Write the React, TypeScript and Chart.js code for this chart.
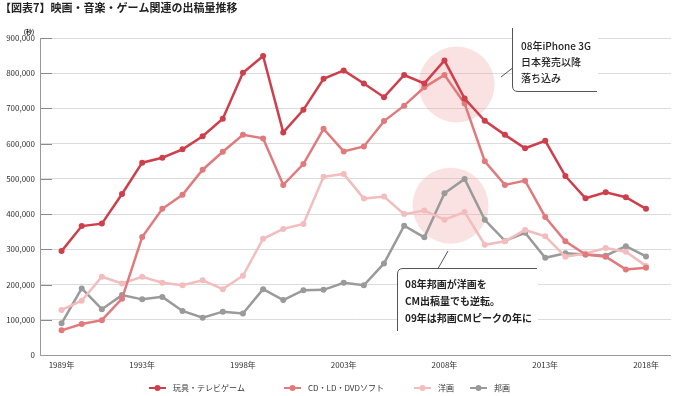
import React, { useEffect, useRef } from 'react';
import { Chart, registerables } from 'chart.js';

Chart.register(...registerables);

const years = [
  1989, 1990, 1991, 1992, 1993, 1994, 1995, 1996, 1997, 1998,
  1999, 2000, 2001, 2002, 2003, 2004, 2005, 2006, 2007, 2008,
  2009, 2010, 2011, 2012, 2013, 2014, 2015, 2016, 2017, 2018,
];
const tickYears = [1989, 1993, 1998, 2003, 2008, 2013, 2018];
const yTicks = [0, 100000, 200000, 300000, 400000, 500000, 600000, 700000, 800000, 900000];

// 玩具・テレビゲーム
const toyGame = [
  295000, 366000, 373000, 457000, 546000, 560000, 584000, 621000, 671000, 801000,
  849000, 632000, 696000, 784000, 808000, 771000, 732000, 795000, 771000, 836000,
  728000, 665000, 625000, 587000, 608000, 508000, 445000, 462000, 448000, 415000,
];
// CD・LD・DVDソフト
const cdSoft = [
  70000, 88000, 99000, 160000, 335000, 415000, 455000, 526000, 577000, 625000,
  615000, 483000, 542000, 642000, 578000, 592000, 664000, 708000, 760000, 795000,
  714000, 550000, 483000, 495000, 392000, 323000, 285000, 279000, 243000, 248000,
];
// 洋画
const foreignFilm = [
  128000, 154000, 222000, 203000, 222000, 205000, 198000, 212000, 187000, 225000,
  330000, 358000, 372000, 506000, 514000, 444000, 450000, 400000, 410000, 384000,
  406000, 313000, 323000, 355000, 337000, 279000, 288000, 304000, 293000, 253000,
];
// 邦画
const domesticFilm = [
  90000, 189000, 130000, 170000, 158000, 165000, 125000, 106000, 123000, 118000,
  187000, 156000, 184000, 185000, 205000, 198000, 260000, 367000, 334000, 459000,
  500000, 384000, 324000, 347000, 276000, 289000, 285000, 282000, 309000, 280000,
];

const seriesNames = ['玩具・テレビゲーム', 'CD・LD・DVDソフト', '洋画', '邦画'];
const seriesColors = ['#cf3f4b', '#e27a7d', '#f3bcbd', '#9a9a9a'];

const titleText = '【図表7】映画・音楽・ゲーム関連の出稿量推移';
const unitText = '(秒)';
const note1 = ['08年iPhone 3G', '日本発売以降', '落ち込み'];
const note2 = ['08年邦画が洋画を', 'CM出稿量でも逆転。', '09年は邦画CMピークの年に'];

const FONT = '"Noto Sans CJK JP", "Noto Sans", sans-serif';

const decorPlugin = {
  id: 'decor',
  beforeDatasetsDraw(chart: any) {
    const ctx = chart.ctx;
    const xs = chart.scales.x;
    const ys = chart.scales.y;
    const area = chart.chartArea;
    ctx.save();
    // highlight circles
    ctx.fillStyle = 'rgba(240,160,160,0.3)';
    const circles = [
      [2008.6, 768000],
      [2008.3, 424000],
    ];
    for (const [cx, cy] of circles) {
      ctx.beginPath();
      ctx.arc(xs.getPixelForValue(cx), ys.getPixelForValue(cy), 38, 0, Math.PI * 2);
      ctx.fill();
    }
    // short tick marks on gridlines
    ctx.strokeStyle = '#8a8a8a';
    ctx.lineWidth = 1;
    for (const v of yTicks) {
      if (v === 0) continue;
      const y = Math.round(ys.getPixelForValue(v)) + 0.5;
      ctx.beginPath();
      ctx.moveTo(area.left, y);
      ctx.lineTo(area.left + 12, y);
      ctx.stroke();
    }
    // axis lines
    ctx.strokeStyle = '#9a9a9a';
    ctx.beginPath();
    ctx.moveTo(area.left + 0.5, area.top);
    ctx.lineTo(area.left + 0.5, area.bottom + 0.5);
    ctx.lineTo(area.right, area.bottom + 0.5);
    ctx.stroke();
    ctx.restore();
  },
  afterDatasetsDraw(chart: any) {
    const ctx = chart.ctx;
    ctx.save();
    // Box 1
    ctx.fillStyle = '#ffffff';
    ctx.fillRect(512, 28, 86, 63);
    ctx.strokeStyle = '#555555';
    ctx.lineWidth = 1;
    ctx.beginPath();
    ctx.moveTo(512.5, 28);
    ctx.lineTo(512.5, 86);
    ctx.quadraticCurveTo(512.5, 91.5, 518, 91.5);
    ctx.lineTo(597, 91.5);
    ctx.stroke();
    ctx.beginPath();
    ctx.moveTo(512.5, 68);
    ctx.lineTo(501, 77);
    ctx.stroke();
    ctx.fillStyle = '#222222';
    ctx.font = `500 10px ${FONT}`;
    ctx.textAlign = 'left';
    ctx.textBaseline = 'middle';
    note1.forEach((t, i) => ctx.fillText(t, 521, 46 + i * 16));

    // Box 2
    ctx.fillStyle = '#ffffff';
    ctx.fillRect(397, 268, 141, 66);
    ctx.strokeStyle = '#555555';
    ctx.beginPath();
    ctx.moveTo(397.5, 331);
    ctx.lineTo(397.5, 274);
    ctx.quadraticCurveTo(397.5, 268.5, 403, 268.5);
    ctx.lineTo(537, 268.5);
    ctx.stroke();
    ctx.beginPath();
    ctx.moveTo(438, 268.5);
    ctx.lineTo(448, 251);
    ctx.stroke();
    ctx.fillStyle = '#222222';
    ctx.font = `bold 10px ${FONT}`;
    note2.forEach((t, i) => ctx.fillText(t, 405, 284 + i * 17));
    ctx.restore();
  },
  afterDraw(chart: any) {
    const ctx = chart.ctx;
    ctx.save();
    // title
    ctx.fillStyle = '#222222';
    ctx.font = `bold 11px ${FONT}`;
    ctx.textAlign = 'left';
    ctx.textBaseline = 'middle';
    ctx.fillText(titleText, 0, 8);
    // unit
    ctx.font = `bold 6px ${FONT}`;
    ctx.textAlign = 'center';
    ctx.fillText(unitText, 29, 32);
    // legend
    const lx = [149, 284, 414, 470];
    const ly = 388;
    ctx.font = `8px ${FONT}`;
    ctx.textAlign = 'left';
    seriesNames.forEach((name, i) => {
      const x = lx[i];
      ctx.strokeStyle = seriesColors[i];
      ctx.fillStyle = seriesColors[i];
      ctx.lineWidth = 2;
      ctx.beginPath();
      ctx.moveTo(x, ly);
      ctx.lineTo(x + 17, ly);
      ctx.stroke();
      ctx.beginPath();
      ctx.arc(x + 8.5, ly, 3, 0, Math.PI * 2);
      ctx.fill();
      ctx.fillStyle = '#333333';
      ctx.fillText(name, x + 24, ly);
    });
    ctx.restore();
  },
};

export default function App() {
  const canvasRef = useRef<HTMLCanvasElement | null>(null);

  useEffect(() => {
    document.body.style.margin = '0';
    const canvas = canvasRef.current;
    if (!canvas) return;
    const seriesData = [toyGame, cdSoft, foreignFilm, domesticFilm];
    const chart = new Chart(canvas, {
      type: 'line',
      data: {
        datasets: seriesData.map((arr, i) => ({
          label: seriesNames[i],
          data: years.map((yr, j) => ({ x: yr, y: arr[j] })),
          borderColor: seriesColors[i],
          backgroundColor: seriesColors[i],
          pointBackgroundColor: seriesColors[i],
          pointBorderColor: seriesColors[i],
          borderWidth: 2.5,
          pointRadius: 3,
          pointBorderWidth: 0,
          tension: 0,
          fill: false,
        })),
      },
      options: {
        responsive: false,
        animation: false,
        devicePixelRatio: 1,
        layout: { padding: { top: 38, right: 0, bottom: 21, left: 0 } },
        plugins: {
          legend: { display: false },
          title: { display: false },
          tooltip: { enabled: false },
        },
        scales: {
          x: {
            type: 'linear',
            min: 1987.93,
            max: 2019.24,
            afterBuildTicks: (s: any) => {
              s.ticks = tickYears.map((v) => ({ value: v }));
            },
            afterFit: (s: any) => {
              s.height = 20;
            },
            grid: { display: false, drawTicks: false },
            border: { display: false },
            ticks: {
              autoSkip: false,
              maxRotation: 0,
              padding: 5,
              color: '#333333',
              font: { family: FONT, size: 8 },
              callback: (v: any) => `${v}年`,
            },
          },
          y: {
            min: 0,
            max: 900000,
            afterBuildTicks: (s: any) => {
              s.ticks = yTicks.map((v) => ({ value: v }));
            },
            afterFit: (s: any) => {
              s.width = 40;
            },
            grid: { color: '#dcdcdc', drawTicks: false, lineWidth: 1 },
            border: { display: false },
            ticks: {
              padding: 5,
              color: '#333333',
              font: { family: FONT, size: 8 },
              callback: (v: any) => Number(v).toLocaleString('en-US'),
            },
          },
        },
      },
      plugins: [decorPlugin],
    });
    return () => chart.destroy();
  }, []);

  return (
    <div style={{ width: 675, height: 396, position: 'relative', background: '#ffffff' }}>
      <canvas ref={canvasRef} width={675} height={396} style={{ display: 'block' }} />
    </div>
  );
}
